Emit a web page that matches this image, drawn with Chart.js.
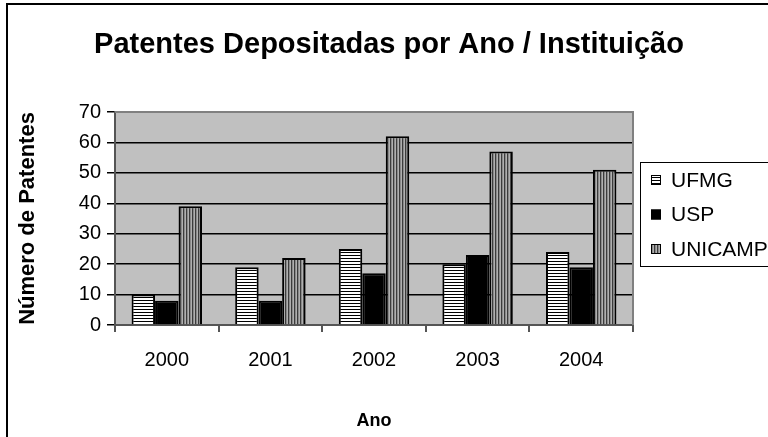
<!DOCTYPE html>
<html>
<head>
<meta charset="utf-8">
<script src="https://cdn.jsdelivr.net/npm/chart.js@4.4.1/dist/chart.umd.min.js"></script>
<style>
html,body{margin:0;padding:0;background:#fff;}
#wrap{width:768px;height:437px;position:relative;}
</style>
</head>
<body>
<div id="wrap"><canvas id="c" width="768" height="437"></canvas></div>
<script>
const categories = ['2000', '2001', '2002', '2003', '2004'];
const seriesNames = ['UFMG', 'USP', 'UNICAMP'];
const ufmg = [10, 19, 25, 20, 24];
const usp = [8, 8, 17, 23, 19];
const unicamp = [39, 22, 62, 57, 51];
const yTicks = [0, 10, 20, 30, 40, 50, 60, 70];
const chartTitle = 'Patentes Depositadas por Ano / Instituição';
const xTitle = 'Ano';
const yTitle = 'Número de Patentes';

function makePattern(kind) {
  const p = document.createElement('canvas');
  p.width = 3; p.height = 3;
  const g = p.getContext('2d');
  if (kind === 'h') {
    g.fillStyle = '#ffffff'; g.fillRect(0, 0, 3, 3);
    g.fillStyle = '#000000'; g.fillRect(0, 0, 3, 1);
  } else {
    g.fillStyle = '#8a8a8a'; g.fillRect(0, 0, 3, 3);
    g.fillStyle = '#3c3c3c'; g.fillRect(0, 0, 1, 3);
    g.fillStyle = '#b0b0b0'; g.fillRect(2, 0, 1, 3);
  }
  return document.getElementById('c').getContext('2d').createPattern(p, 'repeat');
}

const FONT = "'Liberation Sans', Arial, sans-serif";

const frame = {
  id: 'frame',
  beforeDraw(chart) {
    const {ctx, chartArea: a} = chart;
    ctx.save();
    ctx.fillStyle = '#c0c0c0';
    ctx.fillRect(a.left, a.top, a.right - a.left, a.bottom - a.top);
    ctx.restore();
  },
  afterDatasetsDraw(chart) {
    const {ctx, chartArea: a} = chart;
    ctx.save();
    ctx.strokeStyle = '#808080';
    ctx.lineWidth = 2;
    ctx.beginPath();
    ctx.moveTo(a.left, a.top);
    ctx.lineTo(a.right, a.top);
    ctx.lineTo(a.right, a.bottom);
    ctx.stroke();
    ctx.restore();
  },
  afterDraw(chart) {
    const {ctx} = chart;
    ctx.save();
    ctx.strokeStyle = '#000';
    ctx.lineWidth = 2;
    ctx.strokeRect(7, 4, 800, 500);
    // legend
    const lx = 640, ly = 162, lw = 200, lh = 104;
    ctx.lineWidth = 1;
    ctx.strokeStyle = '#000';
    ctx.fillStyle = '#fff';
    ctx.fillRect(lx + 0.5, ly + 0.5, lw, lh);
    ctx.strokeRect(lx + 0.5, ly + 0.5, lw, lh);
    ctx.font = '21px ' + FONT;
    ctx.textBaseline = 'middle';
    ctx.textAlign = 'left';
    chart.data.datasets.forEach((ds, i) => {
      const cy = ly + 18 + i * 34.5;
      ctx.fillStyle = ds.backgroundColor;
      ctx.fillRect(651, cy - 5, 10, 10);
      ctx.strokeStyle = '#000';
      ctx.lineWidth = 1;
      ctx.strokeRect(651.5, cy - 4.5, 9, 9);
      ctx.fillStyle = '#000';
      ctx.fillText(ds.label, 671, cy + 1);
    });
    ctx.restore();
  }
};

const ctx = document.getElementById('c').getContext('2d');
new Chart(ctx, {
  type: 'bar',
  data: {
    labels: categories,
    datasets: [
      {label: seriesNames[0], data: ufmg, backgroundColor: makePattern('h')},
      {label: seriesNames[1], data: usp, backgroundColor: '#000000'},
      {label: seriesNames[2], data: unicamp, backgroundColor: makePattern('v')}
    ].map(d => Object.assign(d, {borderColor: '#000', borderWidth: 2, categoryPercentage: 0.68, barPercentage: 1.0}))
  },
  options: {
    responsive: false,
    animation: false,
    layout: {padding: {left: 10, right: 0, top: 0, bottom: 0}},
    plugins: {
      legend: {display: false},
      tooltip: {enabled: false},
      title: {
        display: true,
        text: chartTitle,
        color: '#000',
        font: {family: FONT, size: 29, weight: 'bold'},
        padding: {top: 27.6, bottom: 49.6}
      }
    },
    scales: {
      x: {
        grid: {display: true, drawOnChartArea: false, drawTicks: true, tickLength: 7, color: '#555', lineWidth: 2, offset: true},
        border: {display: true, color: '#555', width: 2},
        ticks: {color: '#000', font: {family: FONT, size: 20}, padding: 16, maxRotation: 0},
        title: {display: true, text: xTitle, color: '#000', font: {family: FONT, size: 18, weight: 'bold'}, padding: {top: 0, bottom: 5}},
        afterFit(s) { s.height = 437 - 325; }
      },
      y: {
        min: 0, max: 70,
        afterBuildTicks(s) { s.ticks = yTicks.map(v => ({value: v})); },
        grid: {color: '#000', lineWidth: 1.5, tickLength: 8, drawTicks: true},
        border: {display: true, color: '#555', width: 2},
        ticks: {color: '#000', font: {family: FONT, size: 20}, padding: 6},
        title: {display: true, text: yTitle, color: '#000', font: {family: FONT, size: 22, weight: 'bold'}, padding: {top: 5, bottom: 0}},
        afterFit(s) { s.width = 105; }
      },
      pad: {
        type: 'linear', position: 'right', display: true, min: 0, max: 1,
        grid: {display: false}, border: {display: false}, ticks: {display: false},
        afterFit(s) { s.width = 135; }
      }
    }
  },
  plugins: [frame]
});
</script>
</body>
</html>
